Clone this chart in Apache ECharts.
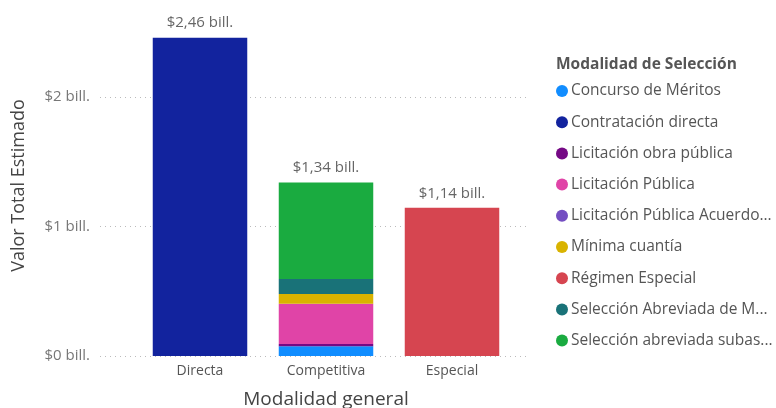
<!DOCTYPE html>
<html><head><meta charset="utf-8">
<script src="https://cdn.jsdelivr.net/npm/echarts@6/dist/echarts.min.js"></script>
<style>html,body{margin:0;padding:0;background:#fff}#c{width:776px;height:408px}</style>
</head><body><div id="c"></div>
<script>
var categories = ['Directa', 'Competitiva', 'Especial'];
var seriesNames = ['Concurso de Méritos','Contratación directa','Licitación obra pública','Licitación Pública','Licitación Pública Acuerdo Marco','Mínima cuantía','Régimen Especial','Selección Abreviada de Menor Cuantía','Selección abreviada subasta inversa'];
var colors = ['#118DFF','#12239E','#750985','#E044A7','#744EC2','#D9B300','#D64550','#197278','#1AAB40'];
var concursoMeritos = [0, 0.075, 0];
var contratacionDirecta = [2.46, 0, 0];
var licitacionObra = [0, 0.018, 0];
var licitacionPublica = [0, 0.31, 0];
var licitacionAcuerdo = [0, 0.001, 0];
var minimaCuantia = [0, 0.075, 0];
var regimenEspecial = [0, 0, 1.145];
var seleccionMenor = [0, 0.116, 0];
var seleccionSubasta = [0, 0.745, 0];
var yTicks = [0, 1, 2];
var totalLabels = ['$2,46 bill.', '$1,34 bill.', '$1,14 bill.'];

var allData = [concursoMeritos, contratacionDirecta, licitacionObra, licitacionPublica, licitacionAcuerdo, minimaCuantia, regimenEspecial, seleccionMenor, seleccionSubasta];
var font = 'Open Sans, Noto Sans, sans-serif';
var series = allData.map(function(d, i){
  return {name: seriesNames[i], type:'bar', stack:'s', data:d, xAxisIndex:1, yAxisIndex:1,
    barWidth:'75%', itemStyle:{color:colors[i]}};
});
series.push({name:'total', type:'bar', stack:'s', data:[0,0,0], xAxisIndex:1, yAxisIndex:1,
  barWidth:'75%', itemStyle:{color:'transparent'},
  label:{show:true, position:'top', distance:7, color:'#666', fontSize:15, fontFamily:font,
    formatter:function(p){return totalLabels[p.dataIndex];}}});

var chart = echarts.init(document.getElementById('c'));
chart.setOption({
  animation:false,
  title:{text:'Modalidad de Selección', left:551, top:52, textStyle:{fontSize:15.5, fontWeight:'bold', color:'#555', fontFamily:font}},
  legend:{data:seriesNames, orient:'vertical', left:551, top:78, icon:'circle', itemWidth:12, itemHeight:12, itemGap:15.2,
    textStyle:{fontSize:15.5, color:'#555', fontFamily:font, width:206, overflow:'truncate', padding:[0,0,0,-2]}},
  grid:[{left:100, right:246, top:37, bottom:52, containLabel:false, outerBoundsMode:'none'},
        {left:137, right:261, top:37, bottom:52, containLabel:false, outerBoundsMode:'none'}],
  xAxis:[{type:'value', gridIndex:0, show:false, min:0, max:1},
    {type:'category', gridIndex:1, data:categories, axisLine:{show:false}, axisTick:{show:false},
      axisLabel:{color:'#555', fontSize:14, fontFamily:font, margin:8},
      name:'Modalidad general', nameLocation:'middle', nameGap:34,
      nameTextStyle:{fontSize:19, color:'#444', fontFamily:font}}],
  yAxis:[{type:'value', gridIndex:0, min:0, max:2.465, interval:1, axisLine:{show:false}, axisTick:{show:false},
      splitLine:{showMaxLine:false, lineStyle:{type:[1,4], color:'#bbb'}},
      axisLabel:{color:'#777', fontSize:15, fontFamily:font, margin:10, formatter:function(v){return yTicks.indexOf(v)>=0?('$'+v+' bill.'):'';}},
      name:'Valor Total Estimado', nameLocation:'middle', nameGap:72, nameRotate:90,
      nameTextStyle:{fontSize:18, color:'#444', fontFamily:font, padding:[0,0,0,22]}},
    {type:'value', gridIndex:1, min:0, max:2.465, show:false}],
  series:series
});
</script></body></html>
